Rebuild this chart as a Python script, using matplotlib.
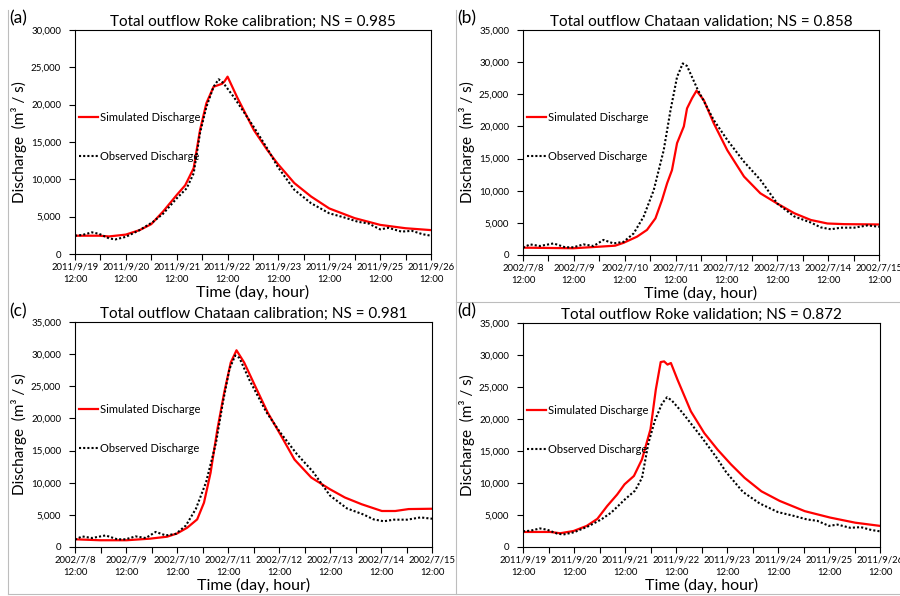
import numpy as np
import matplotlib
matplotlib.use('Agg')
import matplotlib.pyplot as plt
from matplotlib.ticker import FuncFormatter, MultipleLocator
from matplotlib.lines import Line2D

plt.rcParams['font.family'] = ['Lato', 'DejaVu Sans']

# hours since first tick (day 1 12:00)
roke_ticks = ['2011/9/19\n12:00', '2011/9/20\n12:00', '2011/9/21\n12:00', '2011/9/22\n12:00',
              '2011/9/23\n12:00', '2011/9/24\n12:00', '2011/9/25\n12:00', '2011/9/26\n12:00']
chataan_ticks = ['2002/7/8\n12:00', '2002/7/9\n12:00', '2002/7/10\n12:00', '2002/7/11\n12:00',
                 '2002/7/12\n12:00', '2002/7/13\n12:00', '2002/7/14\n12:00', '2002/7/15\n12:00']

# observed Roke (used in a and d)
roke_obs_h = [0, 3.5, 8, 11.4, 16, 19, 24, 30.5, 36.8, 41.6, 48, 52.7, 56, 59, 62, 65.4, 67.8, 70,
              75, 84.4, 90.8, 95.6, 103.5, 111.4, 120, 127, 133.7, 138.4, 144, 148, 154, 159, 164, 168]
roke_obs = [2450, 2550, 2900, 2700, 2100, 1950, 2300, 3200, 4300, 5400, 7450, 8800, 10800, 16200,
            19700, 22400, 23400, 22900, 21000, 17000, 14100, 11700, 8600, 6800, 5450, 4900, 4300,
            4100, 3300, 3500, 3000, 3100, 2650, 2450]

# simulated Roke calibration (a)
roke_cal_h = [0, 11.4, 16, 24, 30.5, 36, 41.6, 48, 52, 56, 59, 62, 65.4, 69.4, 70.5, 72, 76.5,
              84.4, 90.8, 95.6, 103.5, 111.4, 120, 132, 144, 156, 168]
roke_cal = [2450, 2450, 2350, 2600, 3200, 4000, 5700, 7900, 9200, 11500, 16600, 20200, 22400,
            22800, 23100, 23750, 21000, 16600, 13900, 12100, 9500, 7700, 6100, 4800, 3900, 3450, 3200]

# simulated Roke validation (d)
roke_val_h = [0, 12.8, 17.5, 23.8, 30, 35, 39.6, 44.3, 47.8, 52.2, 56, 60, 62.5, 64.8, 66.4, 68,
              69.6, 72.7, 79, 85.3, 91.6, 97.9, 104.3, 112.2, 120.8, 132.6, 144.5, 156.3, 168]
roke_val = [2350, 2350, 2150, 2500, 3300, 4400, 6400, 8200, 9800, 11100, 13700, 18400, 24600,
            28900, 29000, 28500, 28750, 26150, 21200, 17800, 15200, 12900, 10800, 8700, 7200,
            5600, 4600, 3800, 3300]

# observed Chataan (used in b and c)
chataan_obs_h = [0, 3.3, 8, 14.4, 19.9, 23.8, 28.5, 33.3, 38, 42.7, 47.5, 52.2, 56.9, 61.7, 66.4,
                 69.6, 72.7, 75.4, 77.4, 82.2, 90, 96.4, 104.3, 112, 120, 128, 135.8, 140.5,
                 145.3, 150, 156.3, 162.6, 168]
chataan_obs = [1140, 1650, 1400, 1800, 1200, 1200, 1650, 1400, 2350, 1800, 2050, 3350, 5950,
               10100, 16300, 22500, 27700, 29800, 29400, 25900, 21000, 17900, 14500, 11700, 8000,
               6000, 5050, 4300, 4000, 4250, 4250, 4600, 4400]

# simulated Chataan validation (b)
chataan_val_h = [0, 23.8, 36.4, 43.5, 47.5, 53.8, 58.5, 62.5, 65.6, 68, 70.3, 72.7, 75.9, 77.4,
                 79.8, 81.9, 85.3, 90, 96.4, 104.3, 112, 120, 128, 135.8, 143.7, 151.6, 168]
chataan_val = [1140, 1050, 1300, 1450, 1900, 2850, 3900, 5700, 8550, 11150, 13200, 17400, 20000,
               22800, 24400, 25560, 24100, 20500, 16300, 12200, 9600, 8000, 6500, 5450, 4900,
               4800, 4750]

# simulated Chataan calibration (c)
chataan_cal_h = [0, 11.7, 24.3, 35.4, 43.3, 48, 52.8, 57.5, 60.7, 63.8, 67, 70.2, 73.3, 76, 79.6,
                 84.4, 90.7, 97, 103.3, 111.2, 119.9, 127, 134.9, 144.4, 150.7, 157, 168]
chataan_cal = [1200, 1050, 1050, 1300, 1600, 2100, 3000, 4300, 6900, 11550, 18300, 24000, 28700,
               30600, 28700, 25300, 20900, 17300, 13600, 10800, 9000, 7700, 6650, 5600, 5600,
               5900, 5950]

W, H = 900, 596
fig = plt.figure(figsize=(9, 5.96), dpi=100)


def px_axes(l, t, r, b):
    return fig.add_axes([l / W, 1 - b / H, (r - l) / W, (b - t) / H])


def panel(box, label, title, sim_h, sim, obs_h, obs, ticks, ymax, lab_xy):
    ax = px_axes(*box)
    ax.plot(sim_h, sim, color='#ff0000', lw=1.6)
    ax.plot(obs_h, obs, color='black', lw=1.5, ls=(0, (1, 1)))
    ax.set_xlim(0, 168)
    ax.set_ylim(0, ymax)
    ax.set_xticks(np.arange(0, 169, 24))
    ax.set_xticklabels(ticks, fontsize=6.8, linespacing=1.5)
    ax.xaxis.set_minor_locator(MultipleLocator(12))
    ax.yaxis.set_major_locator(MultipleLocator(5000))
    ax.yaxis.set_major_formatter(FuncFormatter(lambda v, p: f'{int(v):,}'))
    ax.tick_params(axis='y', labelsize=7, length=4, width=0.8, pad=6)
    ax.tick_params(axis='x', which='both', length=4, width=0.8, pad=2)
    for s in ax.spines.values():
        s.set_linewidth(0.8)
    ax.set_title(title, fontsize=11, pad=3)
    ax.set_xlabel('Time (day, hour)', fontsize=11.5, labelpad=1)
    ax.set_ylabel('Discharge  (m³ / s)', fontsize=11, labelpad=3)
    handles = [Line2D([], [], color='#ff0000', lw=1.6),
               Line2D([], [], color='black', lw=1.5, ls=(0, (1, 1)))]
    ax.legend(handles, ['Simulated Discharge', 'Observed Discharge'], loc='upper left',
              bbox_to_anchor=(0.012, 0.634), frameon=False, fontsize=8, handlelength=1.7,
              handletextpad=0.15, labelspacing=2.5, borderaxespad=0, borderpad=0)
    fig.text(lab_xy[0] / W, 1 - lab_xy[1] / H, label, fontsize=12.5, va='center', ha='left')
    return ax


# thin grey frames from the composed figure
grey = '#bdbdbd'
fig.add_artist(Line2D([8 / W, 8 / W], [1 - 10 / H, 1 - 594 / H], color=grey, lw=0.8))
fig.add_artist(Line2D([8 / W, 1], [1 - 594 / H, 1 - 594 / H], color=grey, lw=0.8))
fig.add_artist(Line2D([456 / W, 456 / W], [1 - 10 / H, 1 - 594 / H], color=grey, lw=0.8))
fig.add_artist(Line2D([456 / W, 1], [1 - 302 / H, 1 - 302 / H], color=grey, lw=0.8))

panel((75, 30, 431, 254), '(a)', 'Total outflow Roke calibration; NS = 0.985',
      roke_cal_h, roke_cal, roke_obs_h, roke_obs, roke_ticks, 30000, (9, 18))
panel((523, 30, 879, 255), '(b)', 'Total outflow Chataan validation; NS = 0.858',
      chataan_val_h, chataan_val, chataan_obs_h, chataan_obs, chataan_ticks, 35000, (457, 18))
panel((75, 322, 432, 547), '(c)', 'Total outflow Chataan calibration; NS = 0.981',
      chataan_cal_h, chataan_cal, chataan_obs_h, chataan_obs, chataan_ticks, 35000, (9, 311))
panel((523, 323, 880, 547), '(d)', 'Total outflow Roke validation; NS = 0.872',
      roke_val_h, roke_val, roke_obs_h, roke_obs, roke_ticks, 35000, (457, 311))

fig.savefig('out.png', dpi=100)
